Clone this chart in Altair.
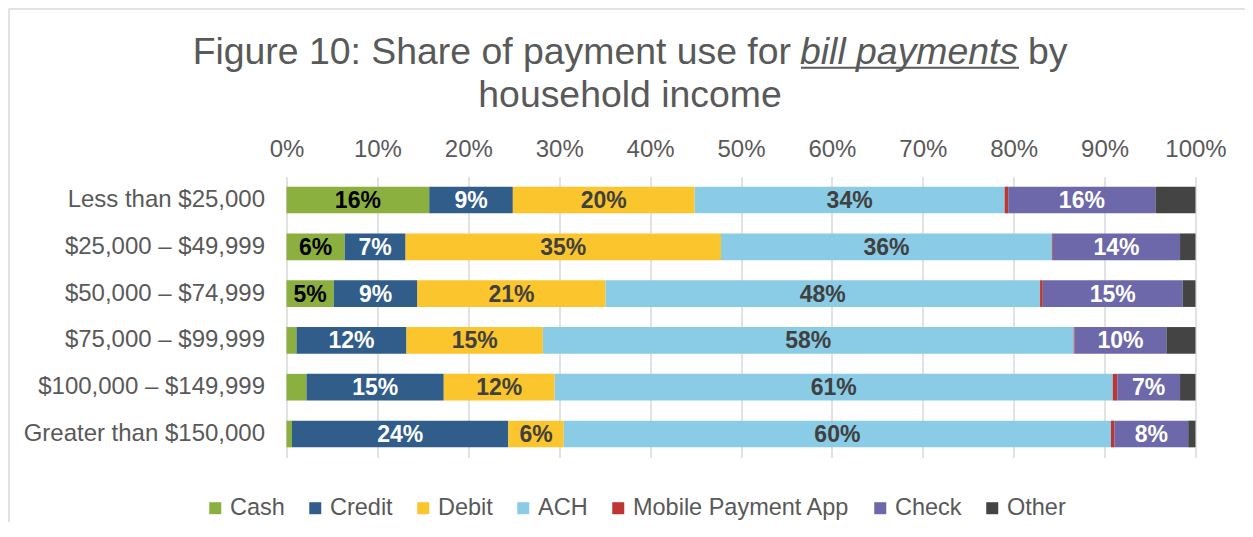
import altair as alt
import pandas as pd

incomes = ["Less than $25,000", "$25,000 – $49,999", "$50,000 – $74,999",
           "$75,000 – $99,999", "$100,000 – $149,999", "Greater than $150,000"]
methods = ["Cash", "Credit", "Debit", "ACH", "Mobile Payment App", "Check", "Other"]

cash = [15.7, 6.4, 5.2, 1.1, 2.2, 0.6]
credit = [9.2, 6.7, 9.2, 12.1, 15.1, 23.8]
debit = [20.0, 34.7, 20.7, 15.0, 12.2, 6.1]
ach = [34.1, 36.4, 47.8, 58.4, 61.4, 60.2]
mobile = [0.4, 0.1, 0.3, 0.1, 0.5, 0.4]
check = [16.2, 14.0, 15.4, 10.1, 6.9, 8.1]
other = [4.4, 1.7, 1.4, 3.2, 1.7, 0.8]

colors = ["#8BB03F", "#305D8A", "#FBC52D", "#8ACBE5", "#BE3634", "#6C68AA", "#444444"]
label_colors = ["#000000", "#FFFFFF", "#404040", "#404040", "#FFFFFF", "#FFFFFF", "#FFFFFF"]

series = [cash, credit, debit, ach, mobile, check, other]
rows = []
for i, inc in enumerate(incomes):
    for j, m in enumerate(methods):
        rows.append({"income": inc, "method": m, "order": j,
                     "value": series[j][i], "lc": label_colors[j]})
df = pd.DataFrame(rows)

FONT = "Liberation Sans"
GREY = "#595959"

base = alt.Chart(df).transform_stack(
    stack="value", groupby=["income"], as_=["x0", "x1"],
    sort=[alt.SortField("order", "ascending")]
).transform_calculate(mid="(datum.x0 + datum.x1) / 2",
                      lbl="round(datum.value) + '%'")

x_axis = alt.Axis(orient="top", values=list(range(0, 101, 10)),
                  labelExpr="datum.value + '%'", title=None, grid=True,
                  gridColor="#d9d9d9", gridWidth=1.5, domain=False, ticks=False,
                  tickSize=0, labelPadding=15, labelFontSize=24,
                  labelColor=GREY, labelFont=FONT, labelFlush=False,
                  labelOverlap=False)
y_axis = alt.Axis(title=None, domain=False, ticks=False, tickSize=0,
                  labelPadding=22, labelFontSize=24, labelColor=GREY,
                  labelFont=FONT, labelLimit=400)

bars = base.mark_bar().encode(
    x=alt.X("x0:Q", scale=alt.Scale(domain=[0, 100], nice=False), axis=x_axis),
    x2="x1:Q",
    y=alt.Y("income:N", sort=incomes,
            scale=alt.Scale(paddingInner=0.43, paddingOuter=0.215), axis=y_axis),
    color=alt.Color("method:N", scale=alt.Scale(domain=methods, range=colors),
                    legend=alt.Legend(orient="none", legendX=-83, legendY=319.5,
                                      direction="horizontal", title=None,
                                      symbolType="square", symbolSize=144,
                                      symbolStrokeWidth=0, labelFontSize=23.5,
                                      labelColor=GREY, labelFont=FONT,
                                      labelOffset=3, columnPadding=18, padding=0,
                                      labelLimit=400)),
)

labels = base.transform_filter("datum.value >= 4.5").mark_text(
    fontSize=23, fontWeight="bold", font=FONT, baseline="middle", dy=1
).encode(
    x=alt.X("mid:Q"),
    y=alt.Y("income:N", sort=incomes),
    text="lbl:N",
    color=alt.Color("lc:N", scale=None),
)

one = alt.Data(values=[{"k": 1}])

def title_text(txt, xv, yv, align="left", italic=False):
    return alt.Chart(one).mark_text(
        align=align, baseline="alphabetic", fontSize=37.4, font=FONT, color=GREY,
        fontStyle="italic" if italic else "normal"
    ).encode(x=alt.value(xv), y=alt.value(yv), text=alt.value(txt))

t1 = title_text("Figure 10: Share of payment use for", 504.5, -112.6, align="right")
t2 = title_text("bill payments", 513.5, -112.6, italic=True)
t3 = title_text("by", 741.5, -112.6)
t4 = title_text("household income", 343.5, -69.6, align="center")

underline = alt.Chart(one).mark_rule(color=GREY, strokeWidth=2).encode(
    x=alt.value(514.5), x2=alt.value(732.5), y=alt.value(-108.9))

frame_top = alt.Chart(one).mark_rule(color="#d9d9d9", strokeWidth=1.5).encode(
    x=alt.value(-278), x2=alt.value(960), y=alt.value(-167.6))
frame_left = alt.Chart(one).mark_rule(color="#d9d9d9", strokeWidth=1.5).encode(
    x=alt.value(-277.5), y=alt.value(-167.6), y2=alt.value(400))

chart = alt.layer(bars, labels, t1, t2, t3, t4, underline, frame_top, frame_left).properties(
    width=909, height=280.8,
    padding={"left": 278.5, "top": 168.6, "right": 49.5, "bottom": 65},
    autosize=alt.AutoSizeParams(type="none"),
    background="white",
).configure_view(stroke=None)

chart.save("out.html", embed_options={"renderer": "svg", "actions": False})
